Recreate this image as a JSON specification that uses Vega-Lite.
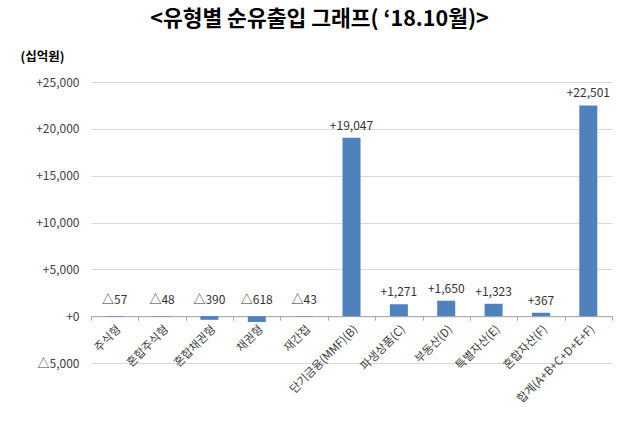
{
  "$schema": "https://vega.github.io/schema/vega-lite/v6.json",
  "width": 521,
  "height": 281,
  "autosize": "none",
  "padding": {"left": 91, "top": 82, "right": 27, "bottom": 65},
  "background": "white",
  "config": {
    "font": "Noto Sans CJK KR",
    "view": {"stroke": null}
  },
  "title": {
    "text": "<유형별 순유출입 그래프( ‘18.10월)>",
    "fontSize": 21.5,
    "fontWeight": "bold",
    "font": "Noto Sans CJK KR",
    "color": "#000000",
    "anchor": "middle",
    "frame": "group",
    "dx": -32,
    "offset": 20
  },
  "data": {
    "values": [
      {"category": "주식형", "value": -57, "label": "△57"},
      {"category": "혼합주식형", "value": -48, "label": "△48"},
      {"category": "혼합채권형", "value": -390, "label": "△390"},
      {"category": "채권형", "value": -618, "label": "△618"},
      {"category": "재간접", "value": -43, "label": "△43"},
      {"category": "단기금융(MMF)(B)", "value": 19047, "label": "+19,047"},
      {"category": "파생상품(C)", "value": 1271, "label": "+1,271"},
      {"category": "부동산(D)", "value": 1650, "label": "+1,650"},
      {"category": "특별자산(E)", "value": 1323, "label": "+1,323"},
      {"category": "혼합자산(F)", "value": 367, "label": "+367"},
      {"category": "합계(A+B+C+D+E+F)", "value": 22501, "label": "+22,501"}
    ]
  },
  "encoding": {
    "x": {
      "field": "category",
      "type": "nominal",
      "sort": null,
      "scale": {"paddingInner": 0, "paddingOuter": 0},
      "axis": {
        "title": null,
        "offset": -46.8,
        "labelAngle": -45,
        "labelFontSize": 11.5,
        "labelColor": "#404040",
        "labelPadding": 3,
        "domainColor": "#a6a6a6",
        "tickColor": "#a6a6a6",
        "tickSize": 4,
        "tickBand": "extent",
        "grid": false
      }
    }
  },
  "layer": [
    {
      "mark": {"type": "bar", "color": "#4F81BD", "width": {"band": 0.38}},
      "encoding": {
        "y": {
          "field": "value",
          "type": "quantitative",
          "scale": {"domain": [-5000, 25000], "nice": false},
          "axis": {
            "values": [-5000, 0, 5000, 10000, 15000, 20000, 25000],
            "labelExpr": "datum.value > 0 ? '+' + format(datum.value, ',') : (datum.value == 0 ? '+0' : '△' + format(-datum.value, ','))",
            "labelFontSize": 12,
            "labelColor": "#404040",
            "labelPadding": 12,
            "ticks": false,
            "domain": false,
            "grid": true,
            "gridColor": "#d9d9d9",
            "title": "(십억원)",
            "titleAngle": 0,
            "titleX": -71,
            "titleY": -26,
            "titleAlign": "left",
            "titleBaseline": "middle",
            "titleFontSize": 12.5,
            "titleFontWeight": "bold",
            "titleColor": "#000000"
          }
        }
      }
    },
    {
      "transform": [{"filter": "datum.value >= 0"}],
      "mark": {"type": "text", "baseline": "bottom", "dy": -5, "fontSize": 12, "color": "#333333"},
      "encoding": {
        "y": {"field": "value", "type": "quantitative"},
        "text": {"field": "label"}
      }
    },
    {
      "transform": [{"filter": "datum.value < 0"}],
      "mark": {"type": "text", "baseline": "bottom", "dy": -9, "fontSize": 12, "color": "#333333"},
      "encoding": {
        "y": {"datum": 0, "type": "quantitative"},
        "text": {"field": "label"}
      }
    }
  ]
}
